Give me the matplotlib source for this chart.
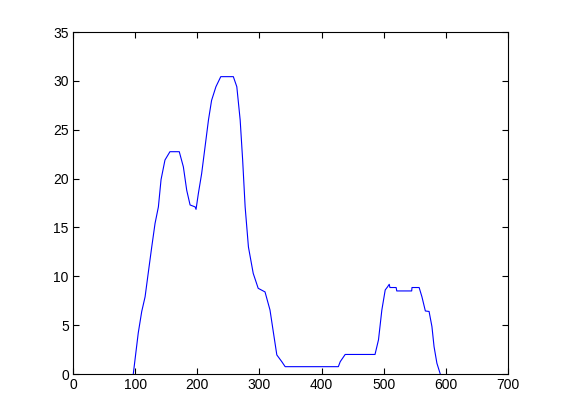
import matplotlib
matplotlib.use("Agg")
import matplotlib.pyplot as plt

x_vals = [97, 101, 105, 110.6, 116, 121, 126.7, 132, 137.4, 141.7, 148, 156, 171,
          177.6, 183, 188.4, 196.5, 198, 201.8, 207, 212.6, 218, 223, 230, 237.8, 258,
          263.6, 269, 273, 277, 282.3, 290, 298, 309, 317, 322.6, 328, 336, 341.4,
          427, 430, 438, 486, 491.6, 497, 502.4, 506, 508.9, 510, 520, 521, 545, 545.5,
          557, 561.5, 567, 573, 577.6, 581, 585.6, 591]
y_vals = [0, 2.1, 4.2, 6.4, 7.9, 10.3, 13.0, 15.4, 17.1, 19.9, 21.9, 22.75, 22.75,
          21.2, 18.8, 17.3, 17.1, 16.85, 18.5, 20.5, 23.3, 26.0, 28.0, 29.4, 30.43, 30.43,
          29.4, 26.0, 21.9, 17.1, 13.0, 10.3, 8.77, 8.4, 6.55, 4.2, 1.95, 1.26, 0.75,
          0.75, 1.26, 2.0, 2.0, 3.5, 6.55, 8.6, 8.9, 9.18, 8.85, 8.85, 8.5, 8.5, 8.85,
          8.85, 7.9, 6.45, 6.4, 4.85, 2.8, 1.1, 0]

x_ticks = [0, 100, 200, 300, 400, 500, 600, 700]
y_ticks = [0, 5, 10, 15, 20, 25, 30, 35]

plt.rcParams['font.family'] = ['Liberation Sans', 'DejaVu Sans']
fig = plt.figure(figsize=(5.61, 4.2), dpi=100, facecolor='white')
ax = fig.add_axes([73/561, 46/420, 435/561, 342/420])
ax.plot(x_vals, y_vals, color=(0, 0, 1), linewidth=0.8)
ax.set_xlim(0, 700)
ax.set_ylim(0, 35)
ax.set_xticks(x_ticks)
ax.set_yticks(y_ticks)
ax.tick_params(direction='in', top=True, right=True, length=4, width=0.8,
               labelsize=10, colors='black', pad=3)
for s in ax.spines.values():
    s.set_linewidth(0.8)
fig.savefig('out.png', dpi=100, facecolor='white')
